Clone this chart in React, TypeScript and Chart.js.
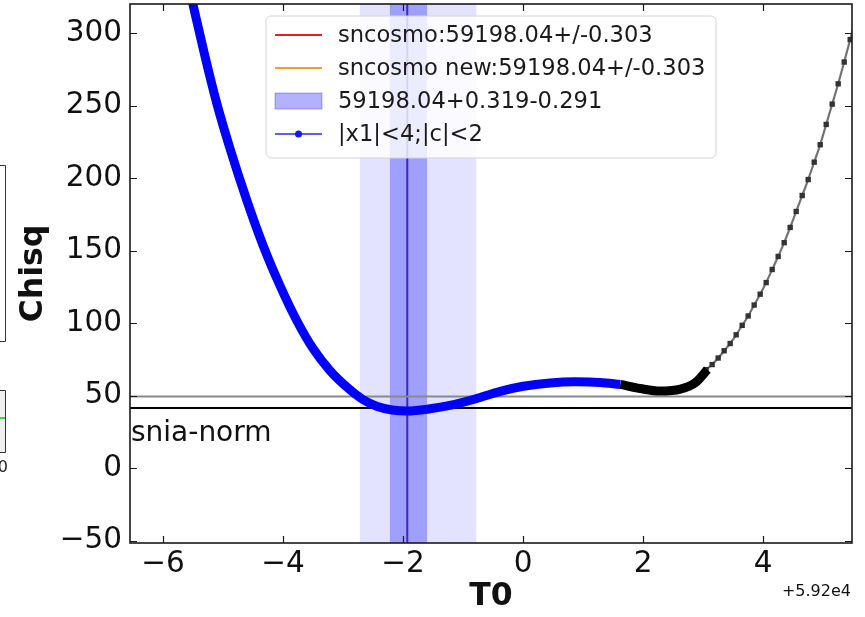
import React, { useEffect, useRef } from "react";
import { Chart, registerables } from "chart.js";
Chart.register(...registerables);

// ---- data (T0 offset from 5.92e4, chisq) ----
const T0_BLUE = [-5.6, -5.5, -5.3, -5.1, -4.88, -4.6, -4.33, -4.05, -3.77, -3.5, -3.22, -2.93, -2.67, -2.43, -2.18, -1.93, -1.55, -1.22, -0.78, -0.38, 0.0, 0.45, 0.87, 1.28, 1.62];
const CHISQ_BLUE = [338, 319.6, 283.8, 250.9, 219.9, 184.2, 153.3, 125.8, 101.7, 82.5, 67.4, 55.7, 47.4, 42.6, 40.2, 39.5, 41, 43.3, 48, 53, 56.5, 58.8, 59.6, 59.2, 57.8];

const T0_BLACK = [1.62, 1.95, 2.28, 2.62, 2.87, 3.07];
const CHISQ_BLACK = [57.8, 55, 53.2, 54.5, 59, 68];

const T0_GRAY = [3.05, 3.15, 3.25, 3.35, 3.45, 3.55, 3.65, 3.75, 3.85, 3.95, 4.05, 4.15, 4.25, 4.35, 4.45, 4.55, 4.65, 4.75, 4.85, 4.95, 5.05, 5.15, 5.25, 5.35, 5.45, 5.55];
const CHISQ_GRAY = [68, 71.5, 76, 81, 86, 92, 98.5, 105, 112.5, 120, 128, 137, 146, 155.5, 166, 177, 188, 199, 211, 223, 237, 251, 265, 280, 295.5, 312];

const HLINE_X = [-7, 6];
const HLINE_GRAY = 49.5;
const HLINE_BLACK = 41.6;

const T0_BEST = -1.93;
const BAND_INNER = [-2.22, -1.6];
const BAND_OUTER = [-2.72, -0.78];

const X_TICKS = [-6, -4, -2, 0, 2, 4];
const Y_TICKS = [-50, 0, 50, 100, 150, 200, 250, 300];

const LEGEND_LABELS = [
  "sncosmo:59198.04+/-0.303",
  "sncosmo new:59198.04+/-0.303",
  "59198.04+0.319-0.291",
  "|x1|<4;|c|<2",
];

const FONT = "DejaVu Sans";

const fmt = (v: number) => (v < 0 ? "\u2212" + Math.abs(v) : String(v));
const pts = (xs: number[], ys: number[]) => xs.map((x, i) => ({ x, y: ys[i] }));

const decor = {
  id: "decor",
  beforeDatasetsDraw(chart: any) {
    const { ctx, chartArea: ca, scales } = chart;
    const xs = scales.x;
    ctx.save();
    ctx.beginPath();
    ctx.rect(ca.left, ca.top, ca.right - ca.left, ca.bottom - ca.top);
    ctx.clip();
    const o0 = xs.getPixelForValue(BAND_OUTER[0]);
    const o1 = xs.getPixelForValue(BAND_OUTER[1]);
    ctx.fillStyle = "rgba(0,0,255,0.11)";
    ctx.fillRect(o0, ca.top, o1 - o0, ca.bottom - ca.top);
    const i0 = xs.getPixelForValue(BAND_INNER[0]);
    const i1 = xs.getPixelForValue(BAND_INNER[1]);
    ctx.fillStyle = "rgba(0,0,255,0.3)";
    ctx.fillRect(i0, ca.top, i1 - i0, ca.bottom - ca.top);
    const vx = xs.getPixelForValue(T0_BEST);
    ctx.strokeStyle = "#3b27c2";
    ctx.lineWidth = 2;
    ctx.beginPath();
    ctx.moveTo(vx, ca.top);
    ctx.lineTo(vx, ca.bottom);
    ctx.stroke();
    ctx.restore();
  },
  afterDraw(chart: any) {
    const { ctx, chartArea: ca, scales } = chart;
    const xs = scales.x;
    const ys = scales.y;
    ctx.save();
    // spines
    ctx.strokeStyle = "#1a1a1a";
    ctx.lineWidth = 1.6;
    ctx.strokeRect(ca.left, ca.top, ca.right - ca.left, ca.bottom - ca.top);
    // inward ticks on all sides
    ctx.lineWidth = 1.2;
    const TL = 7;
    ctx.beginPath();
    X_TICKS.forEach((v) => {
      const p = Math.round(xs.getPixelForValue(v)) + 0.5;
      ctx.moveTo(p, ca.bottom);
      ctx.lineTo(p, ca.bottom - TL);
      ctx.moveTo(p, ca.top);
      ctx.lineTo(p, ca.top + TL);
    });
    Y_TICKS.forEach((v) => {
      const p = Math.round(ys.getPixelForValue(v)) + 0.5;
      ctx.moveTo(ca.left, p);
      ctx.lineTo(ca.left + TL, p);
      ctx.moveTo(ca.right, p);
      ctx.lineTo(ca.right - TL, p);
    });
    ctx.stroke();

    // text inside plot
    ctx.fillStyle = "#111";
    ctx.font = `28px "${FONT}"`;
    ctx.textAlign = "left";
    ctx.textBaseline = "middle";
    ctx.fillText("snia-norm", ca.left + 1, ys.getPixelForValue(24));

    // offset text
    ctx.font = `16px "${FONT}"`;
    ctx.textAlign = "right";
    ctx.fillText("+5.92e4", ca.right - 1, ca.bottom + 49);

    // legend
    const lx = ca.left + 136;
    const ly = ca.top + 12;
    const lw = 450;
    const lh = 142;
    ctx.beginPath();
    (ctx as any).roundRect(lx, ly, lw, lh, 5);
    ctx.fillStyle = "rgba(255,255,255,0.8)";
    ctx.fill();
    ctx.strokeStyle = "#d4d4d4";
    ctx.lineWidth = 1;
    ctx.stroke();
    const hx0 = lx + 9;
    const hx1 = lx + 56;
    const tx = lx + 72;
    const rowY = (i: number) => ly + 19 + i * 33;
    ctx.lineWidth = 2;
    ctx.strokeStyle = "#d62728";
    ctx.beginPath();
    ctx.moveTo(hx0, rowY(0));
    ctx.lineTo(hx1, rowY(0));
    ctx.stroke();
    ctx.strokeStyle = "#f0a030";
    ctx.beginPath();
    ctx.moveTo(hx0, rowY(1));
    ctx.lineTo(hx1, rowY(1));
    ctx.stroke();
    ctx.fillStyle = "rgba(0,0,255,0.3)";
    ctx.fillRect(hx0, rowY(2) - 8, hx1 - hx0, 16);
    ctx.strokeStyle = "rgba(0,0,255,0.3)";
    ctx.lineWidth = 1;
    ctx.strokeRect(hx0, rowY(2) - 8, hx1 - hx0, 16);
    ctx.strokeStyle = "rgba(40,40,240,0.75)";
    ctx.lineWidth = 2;
    ctx.beginPath();
    ctx.moveTo(hx0, rowY(3));
    ctx.lineTo(hx1, rowY(3));
    ctx.stroke();
    ctx.fillStyle = "#1414ff";
    ctx.beginPath();
    ctx.arc((hx0 + hx1) / 2, rowY(3), 3.5, 0, Math.PI * 2);
    ctx.fill();
    ctx.fillStyle = "#1a1a1a";
    ctx.font = `22.6px "${FONT}"`;
    ctx.textAlign = "left";
    ctx.textBaseline = "middle";
    LEGEND_LABELS.forEach((t, i) => ctx.fillText(t, tx, rowY(i) + 1));

    // fragments of neighbouring panel at far left
    ctx.strokeStyle = "#333";
    ctx.lineWidth = 1;
    ctx.beginPath();
    ctx.moveTo(0, 165.5);
    ctx.lineTo(5.5, 165.5);
    ctx.lineTo(5.5, 341.5);
    ctx.lineTo(0, 341.5);
    ctx.moveTo(0, 390.5);
    ctx.lineTo(5.5, 390.5);
    ctx.lineTo(5.5, 452.5);
    ctx.lineTo(0, 452.5);
    ctx.stroke();
    ctx.fillStyle = "#f0f0f0";
    ctx.fillRect(0, 391, 5, 61);
    ctx.strokeStyle = "#33dd33";
    ctx.lineWidth = 2;
    ctx.beginPath();
    ctx.moveTo(0, 418);
    ctx.lineTo(5, 418);
    ctx.stroke();
    ctx.fillStyle = "#222";
    ctx.font = `16px "${FONT}"`;
    ctx.textAlign = "right";
    ctx.fillText("0", 8, 468);
    ctx.restore();
  },
};

export default function App() {
  const ref = useRef<HTMLCanvasElement>(null);
  useEffect(() => {
    document.body.style.margin = "0";
    const canvas = ref.current;
    if (!canvas) return;
    const chart = new Chart(canvas, {
      type: "scatter",
      data: {
        datasets: [
          {
            label: "blue",
            data: pts(T0_BLUE, CHISQ_BLUE),
            showLine: true,
            borderColor: "#0000ff",
            backgroundColor: "#0000ff",
            borderWidth: 9,
            pointRadius: 0,
            cubicInterpolationMode: "monotone",
            order: 1,
          } as any,
          {
            label: "black",
            data: pts(T0_BLACK, CHISQ_BLACK),
            showLine: true,
            borderColor: "#000000",
            backgroundColor: "#000000",
            borderWidth: 9,
            pointRadius: 0,
            cubicInterpolationMode: "monotone",
            order: 1,
          } as any,
          {
            label: "gray",
            data: pts(T0_GRAY, CHISQ_GRAY),
            showLine: true,
            borderColor: "rgba(90,90,90,0.85)",
            backgroundColor: "#333333",
            borderWidth: 2.2,
            pointStyle: "rect",
            pointRadius: 3.8,
            pointBorderWidth: 0,
            cubicInterpolationMode: "monotone",
            order: 2,
          } as any,
          {
            label: "hgray",
            data: HLINE_X.map((x) => ({ x, y: HLINE_GRAY })),
            showLine: true,
            borderColor: "#8a8a8a",
            borderWidth: 2,
            pointRadius: 0,
            order: 5,
          },
          {
            label: "hblack",
            data: HLINE_X.map((x) => ({ x, y: HLINE_BLACK })),
            showLine: true,
            borderColor: "#000000",
            borderWidth: 2,
            pointRadius: 0,
            order: 5,
          },
        ],
      },
      options: {
        responsive: false,
        animation: false,
        devicePixelRatio: 1,
        layout: { padding: { top: 3, right: 13, left: 0, bottom: 0 } },
        plugins: { legend: { display: false }, tooltip: { enabled: false } },
        scales: {
          x: {
            type: "linear",
            position: "bottom",
            min: -6.55,
            max: 5.48,
            afterFit: (s: any) => {
              s.height = 74;
              s.paddingLeft = 0;
              s.paddingRight = 0;
            },
            afterBuildTicks: (s: any) => {
              s.ticks = X_TICKS.map((v) => ({ value: v }));
            },
            grid: { display: false, drawTicks: false },
            border: { display: false },
            ticks: {
              font: { family: FONT, size: 29.5 },
              color: "#111",
              padding: 4,
              maxRotation: 0,
              autoSkip: false,
              callback: (v: any) => fmt(Number(v)),
            },
            title: {
              display: true,
              text: "T0",
              color: "#111",
              font: { family: FONT, size: 31.5, weight: "bold" },
              padding: { top: 0, bottom: 1 },
            },
          },
          y: {
            type: "linear",
            min: -51.5,
            max: 320,
            afterFit: (s: any) => {
              s.width = 130;
              s.paddingTop = 0;
              s.paddingBottom = 0;
            },
            afterBuildTicks: (s: any) => {
              s.ticks = Y_TICKS.map((v) => ({ value: v }));
            },
            grid: { display: false, drawTicks: false },
            border: { display: false },
            ticks: {
              font: { family: FONT, size: 29.5 },
              color: "#111",
              padding: 8,
              autoSkip: false,
              callback: (v: any) => fmt(Number(v)),
            },
            title: {
              display: true,
              text: "Chisq",
              color: "#111",
              font: { family: FONT, size: 31.5, weight: "bold" },
              padding: { top: 15, bottom: 0 },
            },
          },
        },
      },
      plugins: [decor],
    } as any);
    return () => chart.destroy();
  }, []);
  return (
    <div style={{ width: 865, height: 617, position: "relative" }}>
      <canvas ref={ref} width={865} height={617} />
    </div>
  );
}
